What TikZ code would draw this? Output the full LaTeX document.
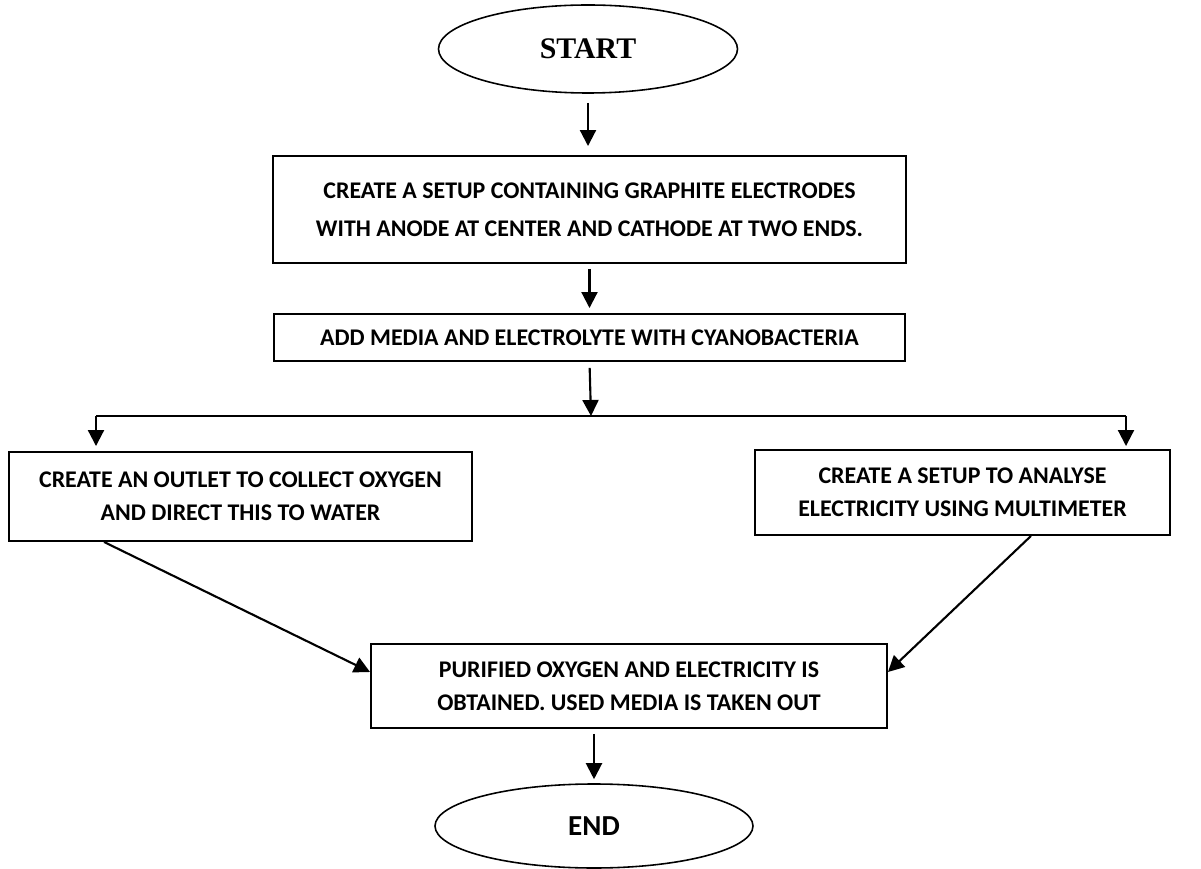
\documentclass[tikz,border=0pt]{standalone}
\usepackage{fontspec}
\setmainfont{Carlito}
\newfontfamily\timesfont{Liberation Serif}
\usetikzlibrary{arrows.meta}
\usetikzlibrary{shapes.geometric}

\tikzset{
  box/.style={draw, rectangle, line width=1.1pt, inner sep=0pt, align=center, font=\bfseries\fontsize{13.6}{18.8}\selectfont},
  term/.style={draw, ellipse, line width=.9pt, inner sep=0pt},
  arr/.style={line width=1.2pt, -{Triangle[length=3.2mm,width=3.2mm]}},
}

\begin{document}
\begin{tikzpicture}[x=.2mm, y=-.2mm]
\useasboundingbox (0,0) rectangle (1201,869);
% terminals and steps
\node[term, minimum width=59.8mm, minimum height=17.6mm, font=\timesfont\bfseries\fontsize{17}{20}\selectfont] (start) at (588,49) {START};
\node[box, minimum width=126.6mm, minimum height=21.4mm, font=\bfseries\fontsize{13.6}{21.5}\selectfont] (setup) at (589.5,209.5) {CREATE A SETUP CONTAINING GRAPHITE ELECTRODES\\WITH ANODE AT CENTER AND CATHODE AT TWO ENDS.};
\node[box, minimum width=126.2mm, minimum height=9.4mm] (media) at (589.5,337.5) {ADD MEDIA AND ELECTROLYTE WITH CYANOBACTERIA};
\node[box, minimum width=92.6mm, minimum height=17.8mm] (outlet) at (240.5,496.5) {CREATE AN OUTLET TO COLLECT OXYGEN\\AND DIRECT THIS TO WATER};
\node[box, minimum width=83mm, minimum height=17mm] (meter) at (962.5,492.5) {CREATE A SETUP TO ANALYSE\\ELECTRICITY USING MULTIMETER};
\node[box, minimum width=103.2mm, minimum height=16.8mm] (result) at (629,686) {PURIFIED OXYGEN AND ELECTRICITY IS\\OBTAINED. USED MEDIA IS TAKEN OUT};
\node[term, minimum width=63.6mm, minimum height=16.8mm, font=\bfseries\fontsize{16.5}{20}\selectfont] (end) at (594,826) {END};
% branch points
\coordinate (split) at (591,416);
\coordinate (splitL) at (96,416);
\coordinate (splitR) at (1126,416);
% connectors
\draw[arr, shorten <=1.8mm, shorten >=1.8mm] (start.south) -- (start.south |- setup.north);
\draw[arr, shorten <=1mm, shorten >=1mm] (setup.south) -- (media.north);
\draw[arr, shorten <=1.2mm] (media.south) -- (split);
\draw[line width=1.1pt] (splitL) -- (splitR);
\draw[arr, shorten >=1mm] (splitL) -- (splitL |- outlet.north);
\draw[arr, shorten >=.6mm] (splitR) -- (splitR |- meter.north);
\draw[arr] ([xshift=19.2mm]outlet.south west) -- ([yshift=2.8mm]result.west);
\draw[arr] ([xshift=-28mm]meter.south east) -- ([yshift=2.8mm]result.east);
\draw[arr, shorten <=1mm, shorten >=.8mm] (result.south -| end.north) -- (end.north);
\end{tikzpicture}
\end{document}
